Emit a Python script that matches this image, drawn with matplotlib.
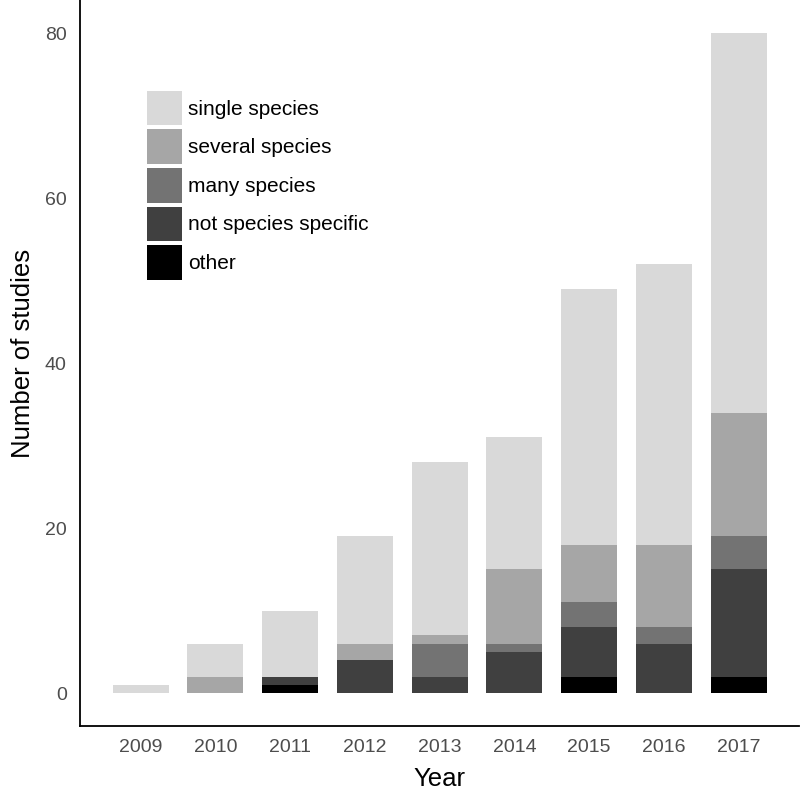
import numpy as np
import matplotlib.pyplot as plt
from matplotlib.patches import Patch

plt.rcParams['font.family'] = ['Liberation Sans', 'DejaVu Sans']

# Data (studies per year, stacked by category)
years = ["2009", "2010", "2011", "2012", "2013", "2014", "2015", "2016", "2017"]
other = [0, 0, 1, 0, 0, 0, 2, 0, 2]
not_specific = [0, 0, 1, 4, 2, 5, 6, 6, 13]
many_species = [0, 0, 0, 0, 4, 1, 3, 2, 4]
several_species = [0, 2, 0, 2, 1, 9, 7, 10, 15]
single_species = [1, 4, 8, 13, 21, 16, 31, 34, 46]

categories = ["other", "not species specific", "many species",
              "several species", "single species"]
colors = ["#000000", "#404040", "#737373", "#a6a6a6", "#d9d9d9"]


def main():
    fig = plt.figure(figsize=(8.0, 7.91), dpi=100)
    ax = fig.add_axes([0.1, 0.082, 0.899, 0.918])

    x = np.arange(len(years))
    series = [other, not_specific, many_species, several_species, single_species]
    bottom = np.zeros(len(years))
    for vals, col in zip(series, colors):
        vals = np.array(vals, dtype=float)
        ax.bar(x, vals, bottom=bottom, width=0.75, color=col, linewidth=0)
        bottom += vals

    ax.set_xlim(-0.81, len(years) - 1 + 0.81)
    ax.set_ylim(-4, 84)
    ax.set_xticks(x)
    ax.set_xticklabels(years)
    ax.set_yticks([0, 20, 40, 60, 80])
    ax.tick_params(length=0, labelsize=14, colors="#4d4d4d")
    ax.tick_params(axis="y", pad=9.5)
    ax.tick_params(axis="x", pad=9)
    for s in ["top", "right"]:
        ax.spines[s].set_visible(False)
    for s in ["left", "bottom"]:
        ax.spines[s].set_linewidth(1.3)
        ax.spines[s].set_color("black")

    ax.set_xlabel("Year", fontsize=18.5, labelpad=8)
    ax.set_ylabel("Number of studies", fontsize=18.5)
    ax.yaxis.set_label_coords(-0.0626, 0.513)

    handles = [Patch(facecolor=c, edgecolor="none") for c in colors[::-1]]
    ax.legend(handles, categories[::-1], loc="upper left",
              bbox_to_anchor=(0.093, 0.875), frameon=False, fontsize=15,
              handlelength=1.68, handleheight=2.18, handletextpad=0.3,
              labelspacing=0.19, borderpad=0, borderaxespad=0)

    fig.savefig("out.png", dpi=100)


if __name__ == "__main__":
    main()
